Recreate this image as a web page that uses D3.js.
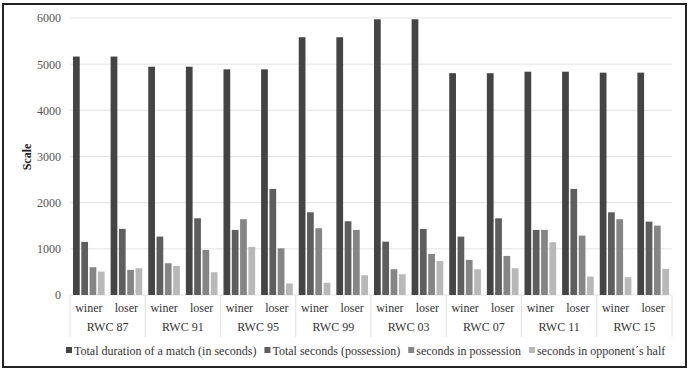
<!DOCTYPE html>
<html>
<head>
<meta charset="utf-8">
<script src="https://cdn.jsdelivr.net/npm/d3@7"></script>
<style>
  body { margin: 0; background: #fff; }
  #chart { width: 688px; height: 370px; }
  svg text { font-family: "Liberation Serif", "Times New Roman", serif !important; fill: #333; }
</style>
</head>
<body>
<div id="chart"></div>
<script>
const tournaments = ["RWC 87", "RWC 91", "RWC 95", "RWC 99", "RWC 03", "RWC 07", "RWC 11", "RWC 15"];
const results = ["winer", "loser"];
const seriesNames = [
    "Total duration of a match (in seconds)",
    "Total seconds (possession)",
    "seconds in possession",
    "seconds in opponent\u00b4s half"
];
const seriesColors = ["#444444", "#5e5e5e", "#858585", "#b8b8b8"];

// values in order: RWC87 winer, RWC87 loser, RWC91 winer, ...
const totalDuration = [5165, 5165, 4945, 4945, 4888, 4888, 5583, 5583, 5972, 5972, 4804, 4804, 4837, 4837, 4816, 4816];
const totalPossession = [1150, 1432, 1265, 1662, 1410, 2298, 1792, 1598, 1156, 1432, 1265, 1662, 1410, 2298, 1792, 1590];
const secondsPossession = [602, 543, 688, 977, 1642, 1012, 1446, 1410, 558, 890, 760, 847, 1410, 1287, 1642, 1503];
const opponentHalf = [507, 580, 630, 493, 1042, 250, 265, 428, 450, 738, 558, 580, 1143, 400, 385, 565];
const tickValues = [0, 1000, 2000, 3000, 4000, 5000, 6000];

const seriesValues = [totalDuration, totalPossession, secondsPossession, opponentHalf];

const rows = [];
tournaments.forEach((t, i) => {
    results.forEach((r, j) => {
        const k = i * 2 + j;
        rows.push({ tournament: t, result: r, key: t + "|" + r, values: seriesValues.map(s => s[k]) });
    });
});

const width = 688, height = 370;
const margin = { top: 18, right: 16, bottom: 75, left: 70 };

const svg = d3.select("#chart").append("svg")
    .attr("width", width)
    .attr("height", height);

svg.append("rect")
    .attr("x", 3).attr("y", 4)
    .attr("width", width - 5).attr("height", height - 7)
    .attr("fill", "#fff")
    .attr("stroke", "#222")
    .attr("stroke-width", 2);

const x0 = d3.scaleBand()
    .domain(rows.map(d => d.key))
    .range([margin.left, width - margin.right])
    .padding(0);

const x1 = d3.scaleBand()
    .domain(d3.range(seriesNames.length))
    .range([0, x0.bandwidth()])
    .paddingInner(0.19)
    .paddingOuter(0.36);

const y = d3.scaleLinear()
    .domain([0, 6000])
    .range([height - margin.bottom, margin.top]);

// gridlines
svg.append("g")
    .selectAll("line")
    .data(tickValues)
    .join("line")
    .attr("x1", margin.left)
    .attr("x2", width - margin.right)
    .attr("y1", d => y(d))
    .attr("y2", d => y(d))
    .attr("stroke", "#e3e3e3")
    .attr("stroke-width", 1);

// y axis labels
const yAxis = svg.append("g")
    .attr("transform", `translate(${margin.left - 9},0)`)
    .call(d3.axisLeft(y).tickValues(tickValues).tickFormat(d3.format("d")).tickSize(0).tickPadding(0));
yAxis.select(".domain").remove();
yAxis.selectAll("text")
    .style("font-size", "12px")
    .style("fill", "#555");

svg.append("text")
    .attr("transform", `translate(31,157) rotate(-90)`)
    .attr("text-anchor", "middle")
    .style("font-size", "12px")
    .style("font-weight", "bold")
    .style("fill", "#222")
    .text("Scale");

// bars
const groups = svg.append("g")
    .selectAll("g")
    .data(rows)
    .join("g")
    .attr("transform", d => `translate(${x0(d.key)},0)`);

groups.selectAll("rect")
    .data(d => d.values.map((v, i) => ({ i, v })))
    .join("rect")
    .attr("x", d => x1(d.i))
    .attr("width", x1.bandwidth())
    .attr("y", d => y(d.v))
    .attr("height", d => y(0) - y(d.v))
    .attr("fill", d => seriesColors[d.i]);

// x axis: category labels and group separators
const base = y(0);
const groupWidth = x0.bandwidth() * 2;

svg.append("g")
    .selectAll("text")
    .data(rows)
    .join("text")
    .attr("x", d => x0(d.key) + x0.bandwidth() / 2)
    .attr("y", base + 17)
    .attr("text-anchor", "middle")
    .style("font-size", "12px")
    .text(d => d.result);

svg.append("g")
    .selectAll("text")
    .data(tournaments)
    .join("text")
    .attr("x", d => x0(d + "|winer") + groupWidth / 2)
    .attr("y", base + 36)
    .attr("text-anchor", "middle")
    .style("font-size", "12px")
    .text(d => d);

svg.append("g")
    .selectAll("line")
    .data(d3.range(tournaments.length + 1))
    .join("line")
    .attr("x1", i => margin.left + i * groupWidth)
    .attr("x2", i => margin.left + i * groupWidth)
    .attr("y1", base)
    .attr("y2", base + 42)
    .attr("stroke", "#e0e0e0")
    .attr("stroke-width", 1);

// legend
const legend = svg.append("g").attr("transform", "translate(66,355)");
let lx = 0;
seriesNames.forEach((name, i) => {
    const item = legend.append("g").attr("transform", `translate(${lx},0)`);
    item.append("rect")
        .attr("x", 0).attr("y", -8)
        .attr("width", 6).attr("height", 6)
        .attr("fill", seriesColors[i]);
    const t = item.append("text")
        .attr("x", 8)
        .attr("y", 0)
        .style("font-size", "12px")
        .text(name);
    lx += 8 + t.node().getComputedTextLength() + 8;
});
</script>
</body>
</html>
